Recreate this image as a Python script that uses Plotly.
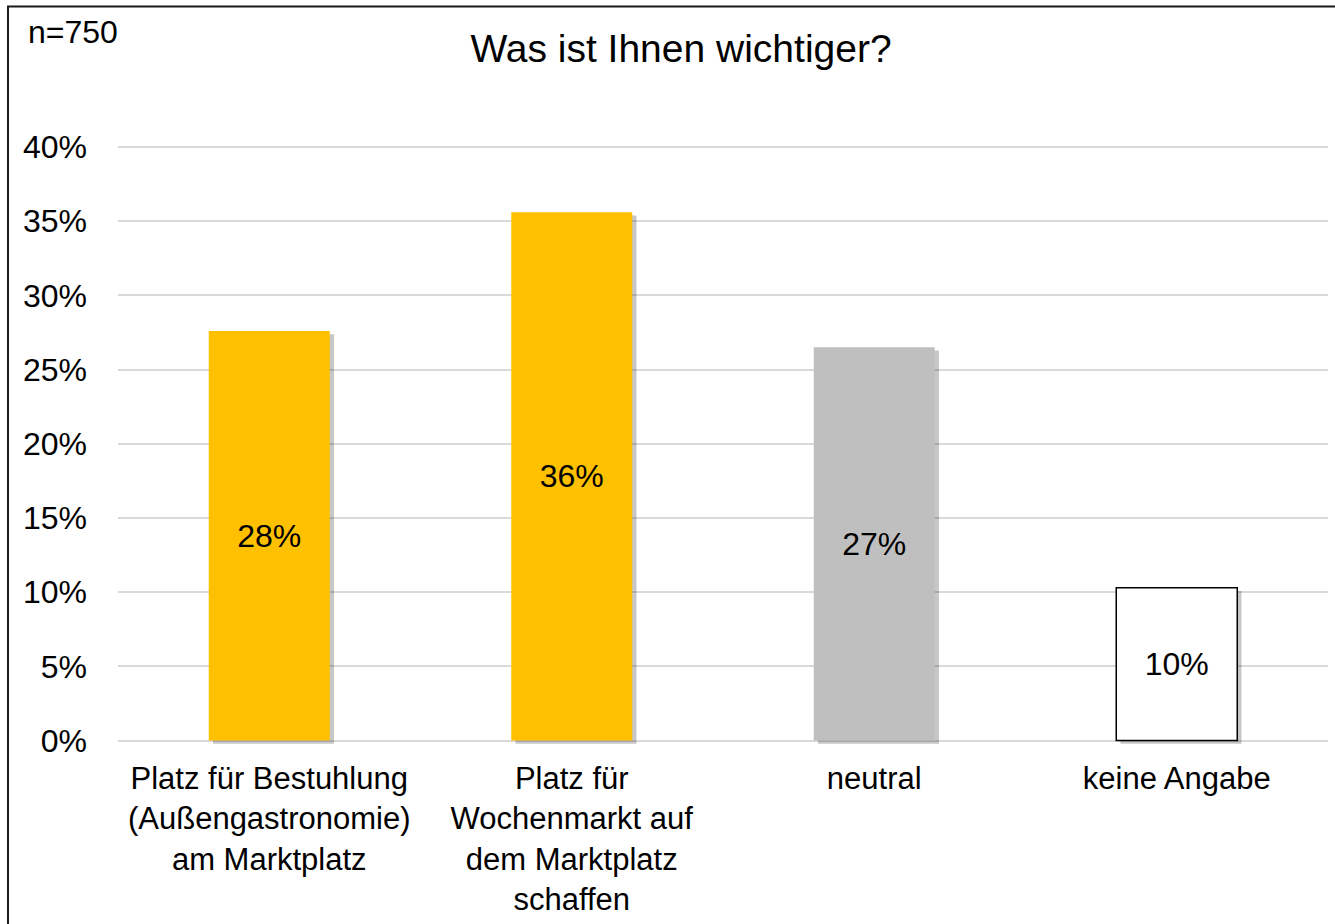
import plotly.graph_objects as go

kategorien = [
    "Platz für Bestuhlung<br>(Außengastronomie)<br>am Marktplatz",
    "Platz für<br>Wochenmarkt auf<br>dem Marktplatz<br>schaffen",
    "neutral",
    "keine Angabe",
]
anteile = [27.6, 35.6, 26.5, 10.3]
y_ticks = [0, 5, 10, 15, 20, 25, 30, 35, 40]
y_labels = [f"{t}%" for t in y_ticks]
n_text = "n=750"
titel = "Was ist Ihnen wichtiger?"

farben = ["#FFC000", "#FFC000", "#BFBFBF", "#FFFFFF"]
rand_farbe = ["rgba(0,0,0,0)", "rgba(0,0,0,0)", "rgba(0,0,0,0)", "#000000"]
rand_breite = [0, 0, 0, 1.5]

schrift = "Liberation Sans, Arial, sans-serif"

W, H = 1335, 924
m_l, m_r, m_t, m_b = 118, 7, 144, 177
plot_w = W - m_l - m_r
plot_h = H - m_t - m_b


def px_x(px):
    return (px - m_l) / plot_w


def px_y(py):
    return (H - m_b - py) / plot_h


fig = go.Figure()

# Schatten hinter den Balken
fig.add_trace(go.Bar(
    x=kategorien, y=anteile, base=-0.22,
    width=0.4, offset=-0.2 + 0.014,
    marker=dict(color="rgba(0,0,0,0.22)", line=dict(width=0)),
    hoverinfo="skip", showlegend=False,
))

fig.add_trace(go.Bar(
    x=kategorien, y=anteile,
    width=0.4, offset=-0.2,
    marker=dict(color=farben, line=dict(color=rand_farbe, width=rand_breite)),
    texttemplate="%{y:.0f}%",
    textposition="inside", insidetextanchor="middle",
    textfont=dict(family=schrift, size=32, color="black"),
    showlegend=False,
))

fig.update_layout(
    barmode="overlay",
    width=W, height=H,
    paper_bgcolor="white", plot_bgcolor="white",
    margin=dict(l=m_l, r=m_r, t=m_t, b=m_b),
    font=dict(family=schrift, size=32, color="black"),
    title=dict(text=titel, x=681 / W, xref="container", xanchor="center",
               y=1 - 48 / H, yref="container", yanchor="middle",
               font=dict(family=schrift, size=39, color="black")),
    xaxis=dict(showgrid=False, showline=False, ticks="", ticklabelstandoff=12,
               tickfont=dict(size=31)),
    yaxis=dict(range=[-0.3, 40.2], tickvals=y_ticks, ticktext=y_labels,
               showgrid=True, gridcolor="#D9D9D9", gridwidth=1.5,
               zeroline=False, showline=False, ticks="",
               ticklabelstandoff=30, tickfont=dict(size=32)),
    annotations=[dict(text=n_text, xref="paper", yref="paper",
                      x=px_x(26), y=px_y(32),
                      xanchor="left", yanchor="middle", showarrow=False,
                      font=dict(family=schrift, size=32, color="black"))],
    # Rahmen: nur linke und obere Kante im Bild sichtbar
    shapes=[dict(type="rect", xref="paper", yref="paper",
                 x0=px_x(8), x1=px_x(1350), y0=px_y(940), y1=px_y(6),
                 line=dict(color="#1a1a1a", width=2), layer="above")],
)

fig.write_html("out.html", config={"displayModeBar": False},
               post_script="document.body.style.margin='0px';document.body.style.overflow='hidden';")
